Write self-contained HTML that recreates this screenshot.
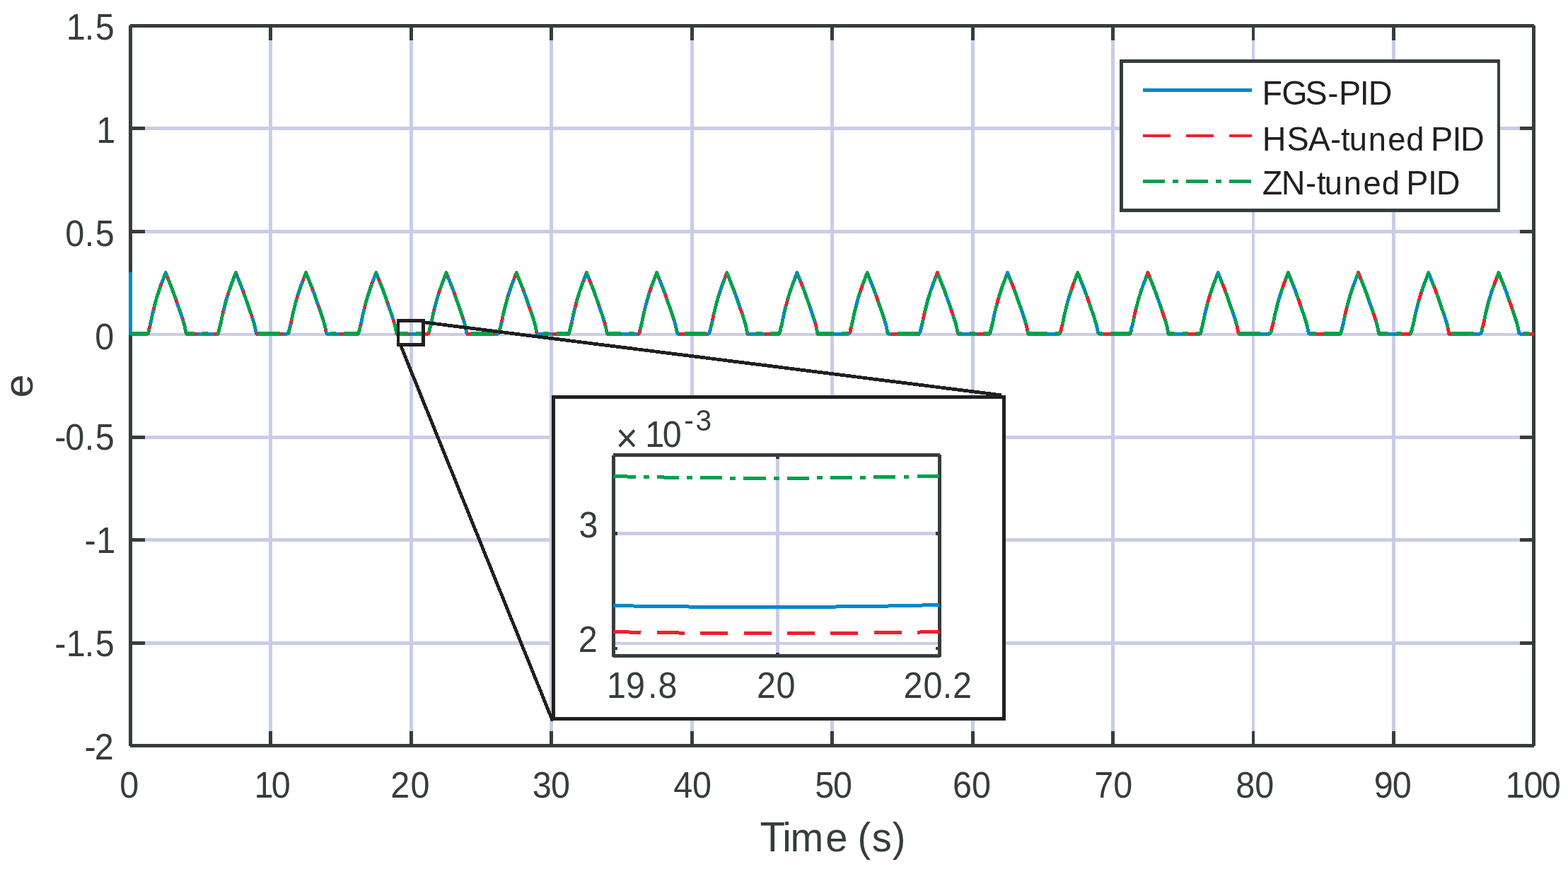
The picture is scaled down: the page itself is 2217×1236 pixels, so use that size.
<!DOCTYPE html>
<html lang="en"><head><meta charset="utf-8"><title>Error e versus time: FGS-PID, HSA-tuned PID, ZN-tuned PID</title>
<style>
html,body{margin:0;padding:0;background:#fff;}
body{width:2217px;height:1236px;overflow:hidden;}
svg{display:block;}
text{font-family:"Liberation Sans", sans-serif;white-space:pre;}
.t,.l{fill:#363d3c;}
.g{fill:#231f20;}
</style></head><body>
<svg width="2217" height="1236" viewBox="0 0 2217 1236" shape-rendering="crispEdges">
<rect x="0" y="0" width="2217" height="1236" fill="#fff"/>
<g fill="#c9cce8">
<rect x="380" y="39" width="5" height="1013"/>
<rect x="579" y="39" width="5" height="1013"/>
<rect x="777" y="39" width="5" height="1013"/>
<rect x="976" y="39" width="5" height="1013"/>
<rect x="1174" y="39" width="5" height="1013"/>
<rect x="1373" y="39" width="5" height="1013"/>
<rect x="1571" y="39" width="5" height="1013"/>
<rect x="1770" y="39" width="4" height="1013"/>
<rect x="1968" y="39" width="5" height="1013"/>
<rect x="187" y="179" width="1979" height="5"/>
<rect x="187" y="325" width="1979" height="5"/>
<rect x="187" y="471" width="1979" height="4"/>
<rect x="187" y="616" width="1979" height="5"/>
<rect x="187" y="761" width="1979" height="5"/>
<rect x="187" y="907" width="1979" height="5"/>
</g>
<g fill="#363d3c">
<rect x="183.5" y="34" width="1985.5" height="5"/>
<rect x="183.5" y="1052" width="1985.5" height="5"/>
<rect x="182" y="36" width="5" height="1019"/>
<rect x="2166" y="36" width="5" height="1019"/>
<rect x="380" y="39" width="5" height="18"/>
<rect x="380" y="1034" width="5" height="18"/>
<rect x="579" y="39" width="5" height="18"/>
<rect x="579" y="1034" width="5" height="18"/>
<rect x="777" y="39" width="5" height="18"/>
<rect x="777" y="1034" width="5" height="18"/>
<rect x="976" y="39" width="5" height="18"/>
<rect x="976" y="1034" width="5" height="18"/>
<rect x="1174" y="39" width="5" height="18"/>
<rect x="1174" y="1034" width="5" height="18"/>
<rect x="1373" y="39" width="5" height="18"/>
<rect x="1373" y="1034" width="5" height="18"/>
<rect x="1571" y="39" width="5" height="18"/>
<rect x="1571" y="1034" width="5" height="18"/>
<rect x="1770" y="39" width="4" height="18"/>
<rect x="1770" y="1034" width="4" height="18"/>
<rect x="1968" y="39" width="5" height="18"/>
<rect x="1968" y="1034" width="5" height="18"/>
<rect x="187" y="179" width="18" height="5"/>
<rect x="2149" y="179" width="17" height="5"/>
<rect x="187" y="325" width="18" height="5"/>
<rect x="2149" y="325" width="17" height="5"/>
<rect x="187" y="471" width="18" height="4"/>
<rect x="2149" y="471" width="17" height="4"/>
<rect x="187" y="616" width="18" height="5"/>
<rect x="2149" y="616" width="17" height="5"/>
<rect x="187" y="761" width="18" height="5"/>
<rect x="2149" y="761" width="17" height="5"/>
<rect x="187" y="907" width="18" height="5"/>
<rect x="2149" y="907" width="17" height="5"/>
</g>
<g>
<text class="t" font-size="50" transform="translate(0 1128.40) scale(0.97 1.03)" x="174.47" y="0">0</text>
<text class="t" font-size="50" transform="translate(0 1128.40) scale(0.97 1.03)" x="370.63 395.68" y="0">10</text>
<text class="t" font-size="50" transform="translate(0 1128.40) scale(0.97 1.03)" x="569.34 598.42" y="0">20</text>
<text class="t" font-size="50" transform="translate(0 1128.40) scale(0.97 1.03)" x="776.04 803.11" y="0">30</text>
<text class="t" font-size="50" transform="translate(0 1128.40) scale(0.97 1.03)" x="981.67 1009.19" y="0">40</text>
<text class="t" font-size="50" transform="translate(0 1128.40) scale(0.97 1.03)" x="1188.00 1214.45" y="0">50</text>
<text class="t" font-size="50" transform="translate(0 1128.40) scale(0.97 1.03)" x="1388.55 1416.61" y="0">60</text>
<text class="t" font-size="50" transform="translate(0 1128.40) scale(0.97 1.03)" x="1595.09 1623.05" y="0">70</text>
<text class="t" font-size="50" transform="translate(0 1128.40) scale(0.97 1.03)" x="1801.20 1829.09" y="0">80</text>
<text class="t" font-size="50" transform="translate(0 1128.40) scale(0.97 1.03)" x="2002.96 2029.76" y="0">90</text>
<text class="t" font-size="50" transform="translate(0 1128.40) scale(0.97 1.03)" x="2194.65 2221.25 2247.13" y="0">100</text>
</g>
<g>
<text class="t" font-size="50" transform="translate(0 56.10) scale(0.97 1.03)" x="96.71 123.36 138.88" y="0">1.5</text>
<text class="t" font-size="50" transform="translate(0 202.00) scale(0.97 1.03)" x="140.53" y="0">1</text>
<text class="t" font-size="50" transform="translate(0 348.00) scale(0.97 1.03)" x="95.01 123.36 138.88" y="0">0.5</text>
<text class="t" font-size="50" transform="translate(0 494.00) scale(0.97 1.03)" x="138.36" y="0">0</text>
<text class="t" font-size="50" transform="translate(0 636.10) scale(0.97 1.03)" x="79.77 95.01 123.36 138.88" y="0">-0.5</text>
<text class="t" font-size="50" transform="translate(0 782.00) scale(0.97 1.03)" x="123.22 140.53" y="0">-1</text>
<text class="t" font-size="50" transform="translate(0 927.80) scale(0.97 1.03)" x="79.77 96.71 123.36 138.88" y="0">-1.5</text>
<text class="t" font-size="50" transform="translate(0 1073.50) scale(0.97 1.03)" x="123.22 137.95" y="0">-2</text>
</g>
<text class="l" font-size="57" transform="translate(0 1204.00) scale(0.985 1)" y="0"><tspan font-size="59.3" x="1090.79">T</tspan><tspan x="1123.02 1134.57 1185.07 1216.77 1231.04 1251.52 1280.94">ime (s)</tspan></text>
<text class="l" font-size="58" text-anchor="middle" transform="translate(46.3 546) rotate(-90) scale(1.03 1.0)" x="0" y="0">e</text>
<g fill="none" stroke-linejoin="round" stroke-width="5">
<path d="M184.5 385.0 L184.5 472.0 L207.9 472.0 L209.2 471.2 L210.1 469.0 L211.0 464.3 L212.3 460.1 L214.1 451.7 L215.8 443.3 L217.9 434.9 L220.0 426.5 L222.5 418.1 L225.3 409.6 L228.2 401.2 L231.5 392.8 L234.2 385.5 L237.1 392.8 L240.4 401.2 L243.7 409.6 L246.8 418.1 L249.7 426.5 L252.6 434.9 L255.6 443.3 L258.3 451.7 L260.8 460.1 L262.5 468.5 L263.1 471.0 L264.1 472.0 L307.1 472.0 L308.4 471.2 L309.3 469.0 L310.2 464.3 L311.5 460.1 L313.3 451.7 L315.0 443.3 L317.1 434.9 L319.2 426.5 L321.7 418.1 L324.5 409.6 L327.4 401.2 L330.7 392.8 L333.4 385.5 L336.3 392.8 L339.6 401.2 L342.9 409.6 L346.0 418.1 L348.9 426.5 L351.8 434.9 L354.8 443.3 L357.5 451.7 L360.0 460.1 L361.7 468.5 L362.3 471.0 L363.3 472.0 L406.3 472.0 L407.6 471.2 L408.5 469.0 L409.4 464.3 L410.7 460.1 L412.5 451.7 L414.2 443.3 L416.3 434.9 L418.4 426.5 L420.9 418.1 L423.7 409.6 L426.6 401.2 L429.9 392.8 L432.6 385.5 L435.5 392.8 L438.8 401.2 L442.1 409.6 L445.2 418.1 L448.1 426.5 L451.0 434.9 L454.0 443.3 L456.7 451.7 L459.2 460.1 L460.9 468.5 L461.5 471.0 L462.5 472.0 L505.5 472.0 L506.8 471.2 L507.7 469.0 L508.6 464.3 L509.9 460.1 L511.7 451.7 L513.4 443.3 L515.5 434.9 L517.7 426.5 L520.1 418.1 L522.9 409.6 L525.8 401.2 L529.1 392.8 L531.8 385.5 L534.7 392.8 L538.0 401.2 L541.3 409.6 L544.4 418.1 L547.3 426.5 L550.2 434.9 L553.2 443.3 L555.9 451.7 L558.4 460.1 L560.1 468.5 L560.7 471.0 L561.7 472.0 L604.7 472.0 L606.0 471.2 L606.9 469.0 L607.8 464.3 L609.1 460.1 L610.9 451.7 L612.6 443.3 L614.7 434.9 L616.9 426.5 L619.3 418.1 L622.1 409.6 L625.0 401.2 L628.3 392.8 L631.0 385.5 L633.9 392.8 L637.2 401.2 L640.5 409.6 L643.6 418.1 L646.5 426.5 L649.4 434.9 L652.4 443.3 L655.1 451.7 L657.6 460.1 L659.3 468.5 L659.9 471.0 L660.9 472.0 L703.9 472.0 L705.2 471.2 L706.1 469.0 L707.0 464.3 L708.3 460.1 L710.1 451.7 L711.8 443.3 L713.9 434.9 L716.1 426.5 L718.5 418.1 L721.3 409.6 L724.2 401.2 L727.5 392.8 L730.2 385.5 L733.1 392.8 L736.4 401.2 L739.7 409.6 L742.8 418.1 L745.7 426.5 L748.6 434.9 L751.6 443.3 L754.3 451.7 L756.8 460.1 L758.5 468.5 L759.1 471.0 L760.1 472.0 L803.1 472.0 L804.4 471.2 L805.3 469.0 L806.2 464.3 L807.5 460.1 L809.3 451.7 L811.0 443.3 L813.1 434.9 L815.2 426.5 L817.7 418.1 L820.5 409.6 L823.4 401.2 L826.7 392.8 L829.4 385.5 L832.3 392.8 L835.6 401.2 L838.9 409.6 L842.0 418.1 L844.9 426.5 L847.8 434.9 L850.8 443.3 L853.5 451.7 L856.0 460.1 L857.7 468.5 L858.3 471.0 L859.3 472.0 L902.3 472.0 L903.6 471.2 L904.5 469.0 L905.4 464.3 L906.7 460.1 L908.5 451.7 L910.2 443.3 L912.3 434.9 L914.5 426.5 L916.9 418.1 L919.7 409.6 L922.6 401.2 L925.9 392.8 L928.6 385.5 L931.5 392.8 L934.8 401.2 L938.1 409.6 L941.2 418.1 L944.1 426.5 L947.0 434.9 L950.0 443.3 L952.7 451.7 L955.2 460.1 L956.9 468.5 L957.5 471.0 L958.5 472.0 L1001.5 472.0 L1002.8 471.2 L1003.7 469.0 L1004.6 464.3 L1005.9 460.1 L1007.7 451.7 L1009.4 443.3 L1011.5 434.9 L1013.7 426.5 L1016.1 418.1 L1018.9 409.6 L1021.8 401.2 L1025.1 392.8 L1027.8 385.5 L1030.7 392.8 L1034.0 401.2 L1037.3 409.6 L1040.4 418.1 L1043.3 426.5 L1046.2 434.9 L1049.2 443.3 L1051.9 451.7 L1054.4 460.1 L1056.1 468.5 L1056.7 471.0 L1057.7 472.0 L1100.7 472.0 L1102.0 471.2 L1102.9 469.0 L1103.8 464.3 L1105.1 460.1 L1106.9 451.7 L1108.6 443.3 L1110.7 434.9 L1112.9 426.5 L1115.3 418.1 L1118.1 409.6 L1121.0 401.2 L1124.3 392.8 L1127.0 385.5 L1129.9 392.8 L1133.2 401.2 L1136.5 409.6 L1139.6 418.1 L1142.5 426.5 L1145.4 434.9 L1148.4 443.3 L1151.1 451.7 L1153.6 460.1 L1155.3 468.5 L1155.9 471.0 L1156.9 472.0 L1199.9 472.0 L1201.2 471.2 L1202.1 469.0 L1203.0 464.3 L1204.3 460.1 L1206.1 451.7 L1207.8 443.3 L1209.9 434.9 L1212.0 426.5 L1214.5 418.1 L1217.3 409.6 L1220.2 401.2 L1223.5 392.8 L1226.2 385.5 L1229.1 392.8 L1232.4 401.2 L1235.7 409.6 L1238.8 418.1 L1241.7 426.5 L1244.6 434.9 L1247.6 443.3 L1250.3 451.7 L1252.8 460.1 L1254.5 468.5 L1255.1 471.0 L1256.1 472.0 L1299.1 472.0 L1300.4 471.2 L1301.3 469.0 L1302.2 464.3 L1303.5 460.1 L1305.3 451.7 L1307.0 443.3 L1309.1 434.9 L1311.2 426.5 L1313.7 418.1 L1316.5 409.6 L1319.4 401.2 L1322.7 392.8 L1325.4 385.5 L1328.3 392.8 L1331.6 401.2 L1334.9 409.6 L1338.0 418.1 L1340.9 426.5 L1343.8 434.9 L1346.8 443.3 L1349.5 451.7 L1352.0 460.1 L1353.7 468.5 L1354.3 471.0 L1355.3 472.0 L1398.3 472.0 L1399.6 471.2 L1400.5 469.0 L1401.4 464.3 L1402.7 460.1 L1404.5 451.7 L1406.2 443.3 L1408.3 434.9 L1410.5 426.5 L1412.9 418.1 L1415.7 409.6 L1418.6 401.2 L1421.9 392.8 L1424.6 385.5 L1427.5 392.8 L1430.8 401.2 L1434.1 409.6 L1437.2 418.1 L1440.1 426.5 L1443.0 434.9 L1446.0 443.3 L1448.7 451.7 L1451.2 460.1 L1452.9 468.5 L1453.5 471.0 L1454.5 472.0 L1497.5 472.0 L1498.8 471.2 L1499.7 469.0 L1500.6 464.3 L1501.9 460.1 L1503.7 451.7 L1505.4 443.3 L1507.5 434.9 L1509.7 426.5 L1512.1 418.1 L1514.9 409.6 L1517.8 401.2 L1521.1 392.8 L1523.8 385.5 L1526.7 392.8 L1530.0 401.2 L1533.3 409.6 L1536.4 418.1 L1539.3 426.5 L1542.2 434.9 L1545.2 443.3 L1547.9 451.7 L1550.4 460.1 L1552.1 468.5 L1552.7 471.0 L1553.7 472.0 L1596.7 472.0 L1598.0 471.2 L1598.9 469.0 L1599.8 464.3 L1601.1 460.1 L1602.9 451.7 L1604.6 443.3 L1606.7 434.9 L1608.9 426.5 L1611.3 418.1 L1614.1 409.6 L1617.0 401.2 L1620.3 392.8 L1623.0 385.5 L1625.9 392.8 L1629.2 401.2 L1632.5 409.6 L1635.6 418.1 L1638.5 426.5 L1641.4 434.9 L1644.4 443.3 L1647.1 451.7 L1649.6 460.1 L1651.3 468.5 L1651.9 471.0 L1652.9 472.0 L1695.9 472.0 L1697.2 471.2 L1698.1 469.0 L1699.0 464.3 L1700.3 460.1 L1702.1 451.7 L1703.8 443.3 L1705.9 434.9 L1708.0 426.5 L1710.5 418.1 L1713.3 409.6 L1716.2 401.2 L1719.5 392.8 L1722.2 385.5 L1725.1 392.8 L1728.4 401.2 L1731.7 409.6 L1734.8 418.1 L1737.7 426.5 L1740.6 434.9 L1743.6 443.3 L1746.3 451.7 L1748.8 460.1 L1750.5 468.5 L1751.1 471.0 L1752.1 472.0 L1795.1 472.0 L1796.4 471.2 L1797.3 469.0 L1798.2 464.3 L1799.5 460.1 L1801.3 451.7 L1803.0 443.3 L1805.1 434.9 L1807.2 426.5 L1809.7 418.1 L1812.5 409.6 L1815.4 401.2 L1818.7 392.8 L1821.4 385.5 L1824.3 392.8 L1827.6 401.2 L1830.9 409.6 L1834.0 418.1 L1836.9 426.5 L1839.8 434.9 L1842.8 443.3 L1845.5 451.7 L1848.0 460.1 L1849.7 468.5 L1850.3 471.0 L1851.3 472.0 L1894.3 472.0 L1895.6 471.2 L1896.5 469.0 L1897.4 464.3 L1898.7 460.1 L1900.5 451.7 L1902.2 443.3 L1904.3 434.9 L1906.5 426.5 L1908.9 418.1 L1911.7 409.6 L1914.6 401.2 L1917.9 392.8 L1920.6 385.5 L1923.5 392.8 L1926.8 401.2 L1930.1 409.6 L1933.2 418.1 L1936.1 426.5 L1939.0 434.9 L1942.0 443.3 L1944.7 451.7 L1947.2 460.1 L1948.9 468.5 L1949.5 471.0 L1950.5 472.0 L1993.5 472.0 L1994.8 471.2 L1995.7 469.0 L1996.6 464.3 L1997.9 460.1 L1999.7 451.7 L2001.4 443.3 L2003.5 434.9 L2005.7 426.5 L2008.1 418.1 L2010.9 409.6 L2013.8 401.2 L2017.1 392.8 L2019.8 385.5 L2022.7 392.8 L2026.0 401.2 L2029.3 409.6 L2032.4 418.1 L2035.3 426.5 L2038.2 434.9 L2041.2 443.3 L2043.9 451.7 L2046.4 460.1 L2048.1 468.5 L2048.7 471.0 L2049.7 472.0 L2092.7 472.0 L2094.0 471.2 L2094.9 469.0 L2095.8 464.3 L2097.1 460.1 L2098.9 451.7 L2100.6 443.3 L2102.7 434.9 L2104.8 426.5 L2107.3 418.1 L2110.1 409.6 L2113.0 401.2 L2116.3 392.8 L2119.0 385.5 L2121.9 392.8 L2125.2 401.2 L2128.5 409.6 L2131.6 418.1 L2134.5 426.5 L2137.4 434.9 L2140.4 443.3 L2143.1 451.7 L2145.6 460.1 L2147.3 468.5 L2147.9 471.0 L2148.9 472.0 L2168.5 472.0" stroke="#0088c9"/>
<path d="M184.5 472.5 L207.9 472.5 L209.2 471.7 L210.1 469.0 L211.0 464.3 L212.3 460.1 L214.1 451.7 L215.8 443.3 L217.9 434.9 L220.0 426.5 L222.5 418.1 L225.3 409.6 L228.2 401.2 L231.5 392.8 L234.2 385.5 L237.1 392.8 L240.4 401.2 L243.7 409.6 L246.8 418.1 L249.7 426.5 L252.6 434.9 L255.6 443.3 L258.3 451.7 L260.8 460.1 L262.5 468.5 L263.1 471.5 L264.1 472.5 L307.1 472.5 L308.4 471.7 L309.3 469.0 L310.2 464.3 L311.5 460.1 L313.3 451.7 L315.0 443.3 L317.1 434.9 L319.2 426.5 L321.7 418.1 L324.5 409.6 L327.4 401.2 L330.7 392.8 L333.4 385.5 L336.3 392.8 L339.6 401.2 L342.9 409.6 L346.0 418.1 L348.9 426.5 L351.8 434.9 L354.8 443.3 L357.5 451.7 L360.0 460.1 L361.7 468.5 L362.3 471.5 L363.3 472.5 L406.3 472.5 L407.6 471.7 L408.5 469.0 L409.4 464.3 L410.7 460.1 L412.5 451.7 L414.2 443.3 L416.3 434.9 L418.4 426.5 L420.9 418.1 L423.7 409.6 L426.6 401.2 L429.9 392.8 L432.6 385.5 L435.5 392.8 L438.8 401.2 L442.1 409.6 L445.2 418.1 L448.1 426.5 L451.0 434.9 L454.0 443.3 L456.7 451.7 L459.2 460.1 L460.9 468.5 L461.5 471.5 L462.5 472.5 L505.5 472.5 L506.8 471.7 L507.7 469.0 L508.6 464.3 L509.9 460.1 L511.7 451.7 L513.4 443.3 L515.5 434.9 L517.7 426.5 L520.1 418.1 L522.9 409.6 L525.8 401.2 L529.1 392.8 L531.8 385.5 L534.7 392.8 L538.0 401.2 L541.3 409.6 L544.4 418.1 L547.3 426.5 L550.2 434.9 L553.2 443.3 L555.9 451.7 L558.4 460.1 L560.1 468.5 L560.7 471.5 L561.7 472.5 L604.7 472.5 L606.0 471.7 L606.9 469.0 L607.8 464.3 L609.1 460.1 L610.9 451.7 L612.6 443.3 L614.7 434.9 L616.9 426.5 L619.3 418.1 L622.1 409.6 L625.0 401.2 L628.3 392.8 L631.0 385.5 L633.9 392.8 L637.2 401.2 L640.5 409.6 L643.6 418.1 L646.5 426.5 L649.4 434.9 L652.4 443.3 L655.1 451.7 L657.6 460.1 L659.3 468.5 L659.9 471.5 L660.9 472.5 L703.9 472.5 L705.2 471.7 L706.1 469.0 L707.0 464.3 L708.3 460.1 L710.1 451.7 L711.8 443.3 L713.9 434.9 L716.1 426.5 L718.5 418.1 L721.3 409.6 L724.2 401.2 L727.5 392.8 L730.2 385.5 L733.1 392.8 L736.4 401.2 L739.7 409.6 L742.8 418.1 L745.7 426.5 L748.6 434.9 L751.6 443.3 L754.3 451.7 L756.8 460.1 L758.5 468.5 L759.1 471.5 L760.1 472.5 L803.1 472.5 L804.4 471.7 L805.3 469.0 L806.2 464.3 L807.5 460.1 L809.3 451.7 L811.0 443.3 L813.1 434.9 L815.2 426.5 L817.7 418.1 L820.5 409.6 L823.4 401.2 L826.7 392.8 L829.4 385.5 L832.3 392.8 L835.6 401.2 L838.9 409.6 L842.0 418.1 L844.9 426.5 L847.8 434.9 L850.8 443.3 L853.5 451.7 L856.0 460.1 L857.7 468.5 L858.3 471.5 L859.3 472.5 L902.3 472.5 L903.6 471.7 L904.5 469.0 L905.4 464.3 L906.7 460.1 L908.5 451.7 L910.2 443.3 L912.3 434.9 L914.5 426.5 L916.9 418.1 L919.7 409.6 L922.6 401.2 L925.9 392.8 L928.6 385.5 L931.5 392.8 L934.8 401.2 L938.1 409.6 L941.2 418.1 L944.1 426.5 L947.0 434.9 L950.0 443.3 L952.7 451.7 L955.2 460.1 L956.9 468.5 L957.5 471.5 L958.5 472.5 L1001.5 472.5 L1002.8 471.7 L1003.7 469.0 L1004.6 464.3 L1005.9 460.1 L1007.7 451.7 L1009.4 443.3 L1011.5 434.9 L1013.7 426.5 L1016.1 418.1 L1018.9 409.6 L1021.8 401.2 L1025.1 392.8 L1027.8 385.5 L1030.7 392.8 L1034.0 401.2 L1037.3 409.6 L1040.4 418.1 L1043.3 426.5 L1046.2 434.9 L1049.2 443.3 L1051.9 451.7 L1054.4 460.1 L1056.1 468.5 L1056.7 471.5 L1057.7 472.5 L1100.7 472.5 L1102.0 471.7 L1102.9 469.0 L1103.8 464.3 L1105.1 460.1 L1106.9 451.7 L1108.6 443.3 L1110.7 434.9 L1112.9 426.5 L1115.3 418.1 L1118.1 409.6 L1121.0 401.2 L1124.3 392.8 L1127.0 385.5 L1129.9 392.8 L1133.2 401.2 L1136.5 409.6 L1139.6 418.1 L1142.5 426.5 L1145.4 434.9 L1148.4 443.3 L1151.1 451.7 L1153.6 460.1 L1155.3 468.5 L1155.9 471.5 L1156.9 472.5 L1199.9 472.5 L1201.2 471.7 L1202.1 469.0 L1203.0 464.3 L1204.3 460.1 L1206.1 451.7 L1207.8 443.3 L1209.9 434.9 L1212.0 426.5 L1214.5 418.1 L1217.3 409.6 L1220.2 401.2 L1223.5 392.8 L1226.2 385.5 L1229.1 392.8 L1232.4 401.2 L1235.7 409.6 L1238.8 418.1 L1241.7 426.5 L1244.6 434.9 L1247.6 443.3 L1250.3 451.7 L1252.8 460.1 L1254.5 468.5 L1255.1 471.5 L1256.1 472.5 L1299.1 472.5 L1300.4 471.7 L1301.3 469.0 L1302.2 464.3 L1303.5 460.1 L1305.3 451.7 L1307.0 443.3 L1309.1 434.9 L1311.2 426.5 L1313.7 418.1 L1316.5 409.6 L1319.4 401.2 L1322.7 392.8 L1325.4 385.5 L1328.3 392.8 L1331.6 401.2 L1334.9 409.6 L1338.0 418.1 L1340.9 426.5 L1343.8 434.9 L1346.8 443.3 L1349.5 451.7 L1352.0 460.1 L1353.7 468.5 L1354.3 471.5 L1355.3 472.5 L1398.3 472.5 L1399.6 471.7 L1400.5 469.0 L1401.4 464.3 L1402.7 460.1 L1404.5 451.7 L1406.2 443.3 L1408.3 434.9 L1410.5 426.5 L1412.9 418.1 L1415.7 409.6 L1418.6 401.2 L1421.9 392.8 L1424.6 385.5 L1427.5 392.8 L1430.8 401.2 L1434.1 409.6 L1437.2 418.1 L1440.1 426.5 L1443.0 434.9 L1446.0 443.3 L1448.7 451.7 L1451.2 460.1 L1452.9 468.5 L1453.5 471.5 L1454.5 472.5 L1497.5 472.5 L1498.8 471.7 L1499.7 469.0 L1500.6 464.3 L1501.9 460.1 L1503.7 451.7 L1505.4 443.3 L1507.5 434.9 L1509.7 426.5 L1512.1 418.1 L1514.9 409.6 L1517.8 401.2 L1521.1 392.8 L1523.8 385.5 L1526.7 392.8 L1530.0 401.2 L1533.3 409.6 L1536.4 418.1 L1539.3 426.5 L1542.2 434.9 L1545.2 443.3 L1547.9 451.7 L1550.4 460.1 L1552.1 468.5 L1552.7 471.5 L1553.7 472.5 L1596.7 472.5 L1598.0 471.7 L1598.9 469.0 L1599.8 464.3 L1601.1 460.1 L1602.9 451.7 L1604.6 443.3 L1606.7 434.9 L1608.9 426.5 L1611.3 418.1 L1614.1 409.6 L1617.0 401.2 L1620.3 392.8 L1623.0 385.5 L1625.9 392.8 L1629.2 401.2 L1632.5 409.6 L1635.6 418.1 L1638.5 426.5 L1641.4 434.9 L1644.4 443.3 L1647.1 451.7 L1649.6 460.1 L1651.3 468.5 L1651.9 471.5 L1652.9 472.5 L1695.9 472.5 L1697.2 471.7 L1698.1 469.0 L1699.0 464.3 L1700.3 460.1 L1702.1 451.7 L1703.8 443.3 L1705.9 434.9 L1708.0 426.5 L1710.5 418.1 L1713.3 409.6 L1716.2 401.2 L1719.5 392.8 L1722.2 385.5 L1725.1 392.8 L1728.4 401.2 L1731.7 409.6 L1734.8 418.1 L1737.7 426.5 L1740.6 434.9 L1743.6 443.3 L1746.3 451.7 L1748.8 460.1 L1750.5 468.5 L1751.1 471.5 L1752.1 472.5 L1795.1 472.5 L1796.4 471.7 L1797.3 469.0 L1798.2 464.3 L1799.5 460.1 L1801.3 451.7 L1803.0 443.3 L1805.1 434.9 L1807.2 426.5 L1809.7 418.1 L1812.5 409.6 L1815.4 401.2 L1818.7 392.8 L1821.4 385.5 L1824.3 392.8 L1827.6 401.2 L1830.9 409.6 L1834.0 418.1 L1836.9 426.5 L1839.8 434.9 L1842.8 443.3 L1845.5 451.7 L1848.0 460.1 L1849.7 468.5 L1850.3 471.5 L1851.3 472.5 L1894.3 472.5 L1895.6 471.7 L1896.5 469.0 L1897.4 464.3 L1898.7 460.1 L1900.5 451.7 L1902.2 443.3 L1904.3 434.9 L1906.5 426.5 L1908.9 418.1 L1911.7 409.6 L1914.6 401.2 L1917.9 392.8 L1920.6 385.5 L1923.5 392.8 L1926.8 401.2 L1930.1 409.6 L1933.2 418.1 L1936.1 426.5 L1939.0 434.9 L1942.0 443.3 L1944.7 451.7 L1947.2 460.1 L1948.9 468.5 L1949.5 471.5 L1950.5 472.5 L1993.5 472.5 L1994.8 471.7 L1995.7 469.0 L1996.6 464.3 L1997.9 460.1 L1999.7 451.7 L2001.4 443.3 L2003.5 434.9 L2005.7 426.5 L2008.1 418.1 L2010.9 409.6 L2013.8 401.2 L2017.1 392.8 L2019.8 385.5 L2022.7 392.8 L2026.0 401.2 L2029.3 409.6 L2032.4 418.1 L2035.3 426.5 L2038.2 434.9 L2041.2 443.3 L2043.9 451.7 L2046.4 460.1 L2048.1 468.5 L2048.7 471.5 L2049.7 472.5 L2092.7 472.5 L2094.0 471.7 L2094.9 469.0 L2095.8 464.3 L2097.1 460.1 L2098.9 451.7 L2100.6 443.3 L2102.7 434.9 L2104.8 426.5 L2107.3 418.1 L2110.1 409.6 L2113.0 401.2 L2116.3 392.8 L2119.0 385.5 L2121.9 392.8 L2125.2 401.2 L2128.5 409.6 L2131.6 418.1 L2134.5 426.5 L2137.4 434.9 L2140.4 443.3 L2143.1 451.7 L2145.6 460.1 L2147.3 468.5 L2147.9 471.5 L2148.9 472.5 L2168.5 472.5" stroke="#ec212b" stroke-dasharray="39.66 22.37" stroke-dashoffset="3"/>
<path d="M184.5 471.5 L207.9 471.5 L209.2 470.7 L210.1 469.0 L211.0 464.3 L212.3 460.1 L214.1 451.7 L215.8 443.3 L217.9 434.9 L220.0 426.5 L222.5 418.1 L225.3 409.6 L228.2 401.2 L231.5 392.8 L234.2 385.5 L237.1 392.8 L240.4 401.2 L243.7 409.6 L246.8 418.1 L249.7 426.5 L252.6 434.9 L255.6 443.3 L258.3 451.7 L260.8 460.1 L262.5 468.5 L263.1 470.5 L264.1 471.5 L307.1 471.5 L308.4 470.7 L309.3 469.0 L310.2 464.3 L311.5 460.1 L313.3 451.7 L315.0 443.3 L317.1 434.9 L319.2 426.5 L321.7 418.1 L324.5 409.6 L327.4 401.2 L330.7 392.8 L333.4 385.5 L336.3 392.8 L339.6 401.2 L342.9 409.6 L346.0 418.1 L348.9 426.5 L351.8 434.9 L354.8 443.3 L357.5 451.7 L360.0 460.1 L361.7 468.5 L362.3 470.5 L363.3 471.5 L406.3 471.5 L407.6 470.7 L408.5 469.0 L409.4 464.3 L410.7 460.1 L412.5 451.7 L414.2 443.3 L416.3 434.9 L418.4 426.5 L420.9 418.1 L423.7 409.6 L426.6 401.2 L429.9 392.8 L432.6 385.5 L435.5 392.8 L438.8 401.2 L442.1 409.6 L445.2 418.1 L448.1 426.5 L451.0 434.9 L454.0 443.3 L456.7 451.7 L459.2 460.1 L460.9 468.5 L461.5 470.5 L462.5 471.5 L505.5 471.5 L506.8 470.7 L507.7 469.0 L508.6 464.3 L509.9 460.1 L511.7 451.7 L513.4 443.3 L515.5 434.9 L517.7 426.5 L520.1 418.1 L522.9 409.6 L525.8 401.2 L529.1 392.8 L531.8 385.5 L534.7 392.8 L538.0 401.2 L541.3 409.6 L544.4 418.1 L547.3 426.5 L550.2 434.9 L553.2 443.3 L555.9 451.7 L558.4 460.1 L560.1 468.5 L560.7 470.5 L561.7 471.5 L604.7 471.5 L606.0 470.7 L606.9 469.0 L607.8 464.3 L609.1 460.1 L610.9 451.7 L612.6 443.3 L614.7 434.9 L616.9 426.5 L619.3 418.1 L622.1 409.6 L625.0 401.2 L628.3 392.8 L631.0 385.5 L633.9 392.8 L637.2 401.2 L640.5 409.6 L643.6 418.1 L646.5 426.5 L649.4 434.9 L652.4 443.3 L655.1 451.7 L657.6 460.1 L659.3 468.5 L659.9 470.5 L660.9 471.5 L703.9 471.5 L705.2 470.7 L706.1 469.0 L707.0 464.3 L708.3 460.1 L710.1 451.7 L711.8 443.3 L713.9 434.9 L716.1 426.5 L718.5 418.1 L721.3 409.6 L724.2 401.2 L727.5 392.8 L730.2 385.5 L733.1 392.8 L736.4 401.2 L739.7 409.6 L742.8 418.1 L745.7 426.5 L748.6 434.9 L751.6 443.3 L754.3 451.7 L756.8 460.1 L758.5 468.5 L759.1 470.5 L760.1 471.5 L803.1 471.5 L804.4 470.7 L805.3 469.0 L806.2 464.3 L807.5 460.1 L809.3 451.7 L811.0 443.3 L813.1 434.9 L815.2 426.5 L817.7 418.1 L820.5 409.6 L823.4 401.2 L826.7 392.8 L829.4 385.5 L832.3 392.8 L835.6 401.2 L838.9 409.6 L842.0 418.1 L844.9 426.5 L847.8 434.9 L850.8 443.3 L853.5 451.7 L856.0 460.1 L857.7 468.5 L858.3 470.5 L859.3 471.5 L902.3 471.5 L903.6 470.7 L904.5 469.0 L905.4 464.3 L906.7 460.1 L908.5 451.7 L910.2 443.3 L912.3 434.9 L914.5 426.5 L916.9 418.1 L919.7 409.6 L922.6 401.2 L925.9 392.8 L928.6 385.5 L931.5 392.8 L934.8 401.2 L938.1 409.6 L941.2 418.1 L944.1 426.5 L947.0 434.9 L950.0 443.3 L952.7 451.7 L955.2 460.1 L956.9 468.5 L957.5 470.5 L958.5 471.5 L1001.5 471.5 L1002.8 470.7 L1003.7 469.0 L1004.6 464.3 L1005.9 460.1 L1007.7 451.7 L1009.4 443.3 L1011.5 434.9 L1013.7 426.5 L1016.1 418.1 L1018.9 409.6 L1021.8 401.2 L1025.1 392.8 L1027.8 385.5 L1030.7 392.8 L1034.0 401.2 L1037.3 409.6 L1040.4 418.1 L1043.3 426.5 L1046.2 434.9 L1049.2 443.3 L1051.9 451.7 L1054.4 460.1 L1056.1 468.5 L1056.7 470.5 L1057.7 471.5 L1100.7 471.5 L1102.0 470.7 L1102.9 469.0 L1103.8 464.3 L1105.1 460.1 L1106.9 451.7 L1108.6 443.3 L1110.7 434.9 L1112.9 426.5 L1115.3 418.1 L1118.1 409.6 L1121.0 401.2 L1124.3 392.8 L1127.0 385.5 L1129.9 392.8 L1133.2 401.2 L1136.5 409.6 L1139.6 418.1 L1142.5 426.5 L1145.4 434.9 L1148.4 443.3 L1151.1 451.7 L1153.6 460.1 L1155.3 468.5 L1155.9 470.5 L1156.9 471.5 L1199.9 471.5 L1201.2 470.7 L1202.1 469.0 L1203.0 464.3 L1204.3 460.1 L1206.1 451.7 L1207.8 443.3 L1209.9 434.9 L1212.0 426.5 L1214.5 418.1 L1217.3 409.6 L1220.2 401.2 L1223.5 392.8 L1226.2 385.5 L1229.1 392.8 L1232.4 401.2 L1235.7 409.6 L1238.8 418.1 L1241.7 426.5 L1244.6 434.9 L1247.6 443.3 L1250.3 451.7 L1252.8 460.1 L1254.5 468.5 L1255.1 470.5 L1256.1 471.5 L1299.1 471.5 L1300.4 470.7 L1301.3 469.0 L1302.2 464.3 L1303.5 460.1 L1305.3 451.7 L1307.0 443.3 L1309.1 434.9 L1311.2 426.5 L1313.7 418.1 L1316.5 409.6 L1319.4 401.2 L1322.7 392.8 L1325.4 385.5 L1328.3 392.8 L1331.6 401.2 L1334.9 409.6 L1338.0 418.1 L1340.9 426.5 L1343.8 434.9 L1346.8 443.3 L1349.5 451.7 L1352.0 460.1 L1353.7 468.5 L1354.3 470.5 L1355.3 471.5 L1398.3 471.5 L1399.6 470.7 L1400.5 469.0 L1401.4 464.3 L1402.7 460.1 L1404.5 451.7 L1406.2 443.3 L1408.3 434.9 L1410.5 426.5 L1412.9 418.1 L1415.7 409.6 L1418.6 401.2 L1421.9 392.8 L1424.6 385.5 L1427.5 392.8 L1430.8 401.2 L1434.1 409.6 L1437.2 418.1 L1440.1 426.5 L1443.0 434.9 L1446.0 443.3 L1448.7 451.7 L1451.2 460.1 L1452.9 468.5 L1453.5 470.5 L1454.5 471.5 L1497.5 471.5 L1498.8 470.7 L1499.7 469.0 L1500.6 464.3 L1501.9 460.1 L1503.7 451.7 L1505.4 443.3 L1507.5 434.9 L1509.7 426.5 L1512.1 418.1 L1514.9 409.6 L1517.8 401.2 L1521.1 392.8 L1523.8 385.5 L1526.7 392.8 L1530.0 401.2 L1533.3 409.6 L1536.4 418.1 L1539.3 426.5 L1542.2 434.9 L1545.2 443.3 L1547.9 451.7 L1550.4 460.1 L1552.1 468.5 L1552.7 470.5 L1553.7 471.5 L1596.7 471.5 L1598.0 470.7 L1598.9 469.0 L1599.8 464.3 L1601.1 460.1 L1602.9 451.7 L1604.6 443.3 L1606.7 434.9 L1608.9 426.5 L1611.3 418.1 L1614.1 409.6 L1617.0 401.2 L1620.3 392.8 L1623.0 385.5 L1625.9 392.8 L1629.2 401.2 L1632.5 409.6 L1635.6 418.1 L1638.5 426.5 L1641.4 434.9 L1644.4 443.3 L1647.1 451.7 L1649.6 460.1 L1651.3 468.5 L1651.9 470.5 L1652.9 471.5 L1695.9 471.5 L1697.2 470.7 L1698.1 469.0 L1699.0 464.3 L1700.3 460.1 L1702.1 451.7 L1703.8 443.3 L1705.9 434.9 L1708.0 426.5 L1710.5 418.1 L1713.3 409.6 L1716.2 401.2 L1719.5 392.8 L1722.2 385.5 L1725.1 392.8 L1728.4 401.2 L1731.7 409.6 L1734.8 418.1 L1737.7 426.5 L1740.6 434.9 L1743.6 443.3 L1746.3 451.7 L1748.8 460.1 L1750.5 468.5 L1751.1 470.5 L1752.1 471.5 L1795.1 471.5 L1796.4 470.7 L1797.3 469.0 L1798.2 464.3 L1799.5 460.1 L1801.3 451.7 L1803.0 443.3 L1805.1 434.9 L1807.2 426.5 L1809.7 418.1 L1812.5 409.6 L1815.4 401.2 L1818.7 392.8 L1821.4 385.5 L1824.3 392.8 L1827.6 401.2 L1830.9 409.6 L1834.0 418.1 L1836.9 426.5 L1839.8 434.9 L1842.8 443.3 L1845.5 451.7 L1848.0 460.1 L1849.7 468.5 L1850.3 470.5 L1851.3 471.5 L1894.3 471.5 L1895.6 470.7 L1896.5 469.0 L1897.4 464.3 L1898.7 460.1 L1900.5 451.7 L1902.2 443.3 L1904.3 434.9 L1906.5 426.5 L1908.9 418.1 L1911.7 409.6 L1914.6 401.2 L1917.9 392.8 L1920.6 385.5 L1923.5 392.8 L1926.8 401.2 L1930.1 409.6 L1933.2 418.1 L1936.1 426.5 L1939.0 434.9 L1942.0 443.3 L1944.7 451.7 L1947.2 460.1 L1948.9 468.5 L1949.5 470.5 L1950.5 471.5 L1993.5 471.5 L1994.8 470.7 L1995.7 469.0 L1996.6 464.3 L1997.9 460.1 L1999.7 451.7 L2001.4 443.3 L2003.5 434.9 L2005.7 426.5 L2008.1 418.1 L2010.9 409.6 L2013.8 401.2 L2017.1 392.8 L2019.8 385.5 L2022.7 392.8 L2026.0 401.2 L2029.3 409.6 L2032.4 418.1 L2035.3 426.5 L2038.2 434.9 L2041.2 443.3 L2043.9 451.7 L2046.4 460.1 L2048.1 468.5 L2048.7 470.5 L2049.7 471.5 L2092.7 471.5 L2094.0 470.7 L2094.9 469.0 L2095.8 464.3 L2097.1 460.1 L2098.9 451.7 L2100.6 443.3 L2102.7 434.9 L2104.8 426.5 L2107.3 418.1 L2110.1 409.6 L2113.0 401.2 L2116.3 392.8 L2119.0 385.5 L2121.9 392.8 L2125.2 401.2 L2128.5 409.6 L2131.6 418.1 L2134.5 426.5 L2137.4 434.9 L2140.4 443.3 L2143.1 451.7 L2145.6 460.1 L2147.3 468.5 L2147.9 470.5 L2148.9 471.5 L2168.5 471.5" stroke="#00a04c" stroke-dasharray="31.33 11.12 8.09 11.12"/>
</g>
<rect x="1583" y="84" width="538" height="216" fill="#fff"/>
<g fill="#363d3c">
<rect x="1583" y="84" width="538" height="5"/>
<rect x="1583" y="295" width="538" height="5"/>
<rect x="1583" y="84" width="5" height="216"/>
<rect x="2117" y="84" width="4" height="216"/>
</g>
<g fill="none" stroke-width="5">
<line x1="1616" y1="127.5" x2="1770" y2="127.5" stroke="#0088c9"/>
<line x1="1616" y1="192" x2="1770" y2="192" stroke="#ec212b" stroke-width="4" stroke-dasharray="39 22"/>
<line x1="1616" y1="256.5" x2="1770" y2="256.5" stroke="#00a04c" stroke-dasharray="31 11 8 11"/>
</g>
<text class="g" font-size="46" transform="translate(0 148.10) scale(0.985 1)" y="0"><tspan font-size="47.4" x="1811.58 1839.86 1873.65">FGS</tspan><tspan x="1905.79">-</tspan><tspan font-size="47.4" x="1921.82 1952.10 1964.26">PID</tspan></text>
<text class="g" font-size="46" transform="translate(0 212.70) scale(0.985 1)" y="0"><tspan font-size="47.4" x="1812.01 1847.30 1878.00">HSA</tspan><tspan x="1909.60 1924.90 1936.73 1964.23 1992.13 2018.44 2044.02">-tuned </tspan><tspan font-size="47.4" x="2053.75 2084.89 2096.54">PID</tspan></text>
<text class="g" font-size="46" transform="translate(0 275.30) scale(0.985 1)" y="0"><tspan font-size="47.4" x="1811.96 1839.37">ZN</tspan><tspan x="1874.17 1890.28 1901.25 1928.80 1956.75 1983.41 2008.99">-tuned </tspan><tspan font-size="47.4" x="2018.47 2049.76 2061.67">PID</tspan></text>
<g fill="none" stroke="#231f20" stroke-width="4.8">
<rect x="563" y="453.5" width="35.5" height="34"/>
<line x1="599.5" y1="455.8" x2="1416.2" y2="558.9"/>
<line x1="565.9" y1="487" x2="781.4" y2="1019.6"/>
</g>
<rect x="782.5" y="561.5" width="637" height="455" fill="#fff" stroke="#231f20" stroke-width="5"/>
<g stroke="#c9cce8" stroke-width="5" fill="none">
<line x1="1099.50" y1="643.50" x2="1099.50" y2="927.50"/>
<line x1="867.50" y1="754.50" x2="1328.50" y2="754.50"/>
<rect x="867.5" y="908" width="461" height="4" fill="#c9cce8" stroke="none"/>
</g>
<g stroke="#363d3c" stroke-width="5" fill="none">
<line x1="866.50" y1="643.50" x2="1329.00" y2="643.50"/>
<line x1="866.50" y1="927.50" x2="1329.00" y2="927.50"/>
<line x1="867.50" y1="643.50" x2="867.50" y2="928.50"/>
<line x1="1328.50" y1="643.00" x2="1328.50" y2="928.50"/>
<line x1="867.50" y1="754.50" x2="873.00" y2="754.50"/>
<line x1="1328.50" y1="754.50" x2="1323.00" y2="754.50"/>
<g stroke-width="4">
<line x1="867.50" y1="916.50" x2="873.00" y2="916.50"/>
<line x1="1328.50" y1="916.50" x2="1323.00" y2="916.50"/>
</g>
<line x1="1099.50" y1="643.50" x2="1099.50" y2="648.90"/>
<line x1="1099.50" y1="927.50" x2="1099.50" y2="922.50"/>
</g>
<g fill="none" stroke-width="5">
<path d="M867.5 856.5 L905.9 857.2 L944.3 857.7 L982.8 858.1 L1021.2 858.4 L1059.6 858.5 L1098.0 858.5 L1136.4 858.3 L1174.8 858.1 L1213.2 857.6 L1251.7 857.1 L1290.1 856.3 L1328.5 855.5" stroke="#0088c9"/>
<path d="M867.5 893.6 L905.9 894.3 L944.3 894.8 L982.8 895.3 L1021.2 895.6 L1059.6 895.7 L1098.0 895.8 L1136.4 895.7 L1174.8 895.5 L1213.2 895.2 L1251.7 894.8 L1290.1 894.2 L1328.5 893.5" stroke="#ec212b" stroke-dasharray="39 22.4"/>
<path d="M867.5 673.6 L905.9 674.4 L944.3 675.1 L982.8 675.6 L1021.2 676.0 L1059.6 676.2 L1098.0 676.2 L1136.4 676.1 L1174.8 675.8 L1213.2 675.3 L1251.7 674.7 L1290.1 673.9 L1328.5 673.0" stroke="#00a04c" stroke-dasharray="31.2 11.2 7.8 11.1"/>
</g>
<text class="t" font-size="50" transform="translate(0 760.40) scale(0.97 1.03)" x="843.92" y="0">3</text>
<text class="t" font-size="50" transform="translate(0 922.30) scale(0.97 1.03)" x="843.11" y="0">2</text>
<text class="t" font-size="50" transform="translate(0 986.80) scale(0.97 1.03)" x="884.55 912.50 944.24 959.19" y="0">19.8</text>
<text class="t" font-size="50" transform="translate(0 986.80) scale(0.97 1.03)" x="1103.00 1131.48" y="0">20</text>
<text class="t" font-size="50" transform="translate(0 986.80) scale(0.97 1.03)" x="1316.97 1345.84 1373.88 1388.57" y="0">20.2</text>
<text class="t" font-size="50" transform="scale(0.97 1.03)"><tspan font-size="55" x="897.81" y="620.01">×</tspan><tspan x="940.53 965.79" y="613.59">10</tspan><tspan font-size="42" x="997.23 1013.96" y="591.26">-3</tspan></text>
</svg>
</body></html>
